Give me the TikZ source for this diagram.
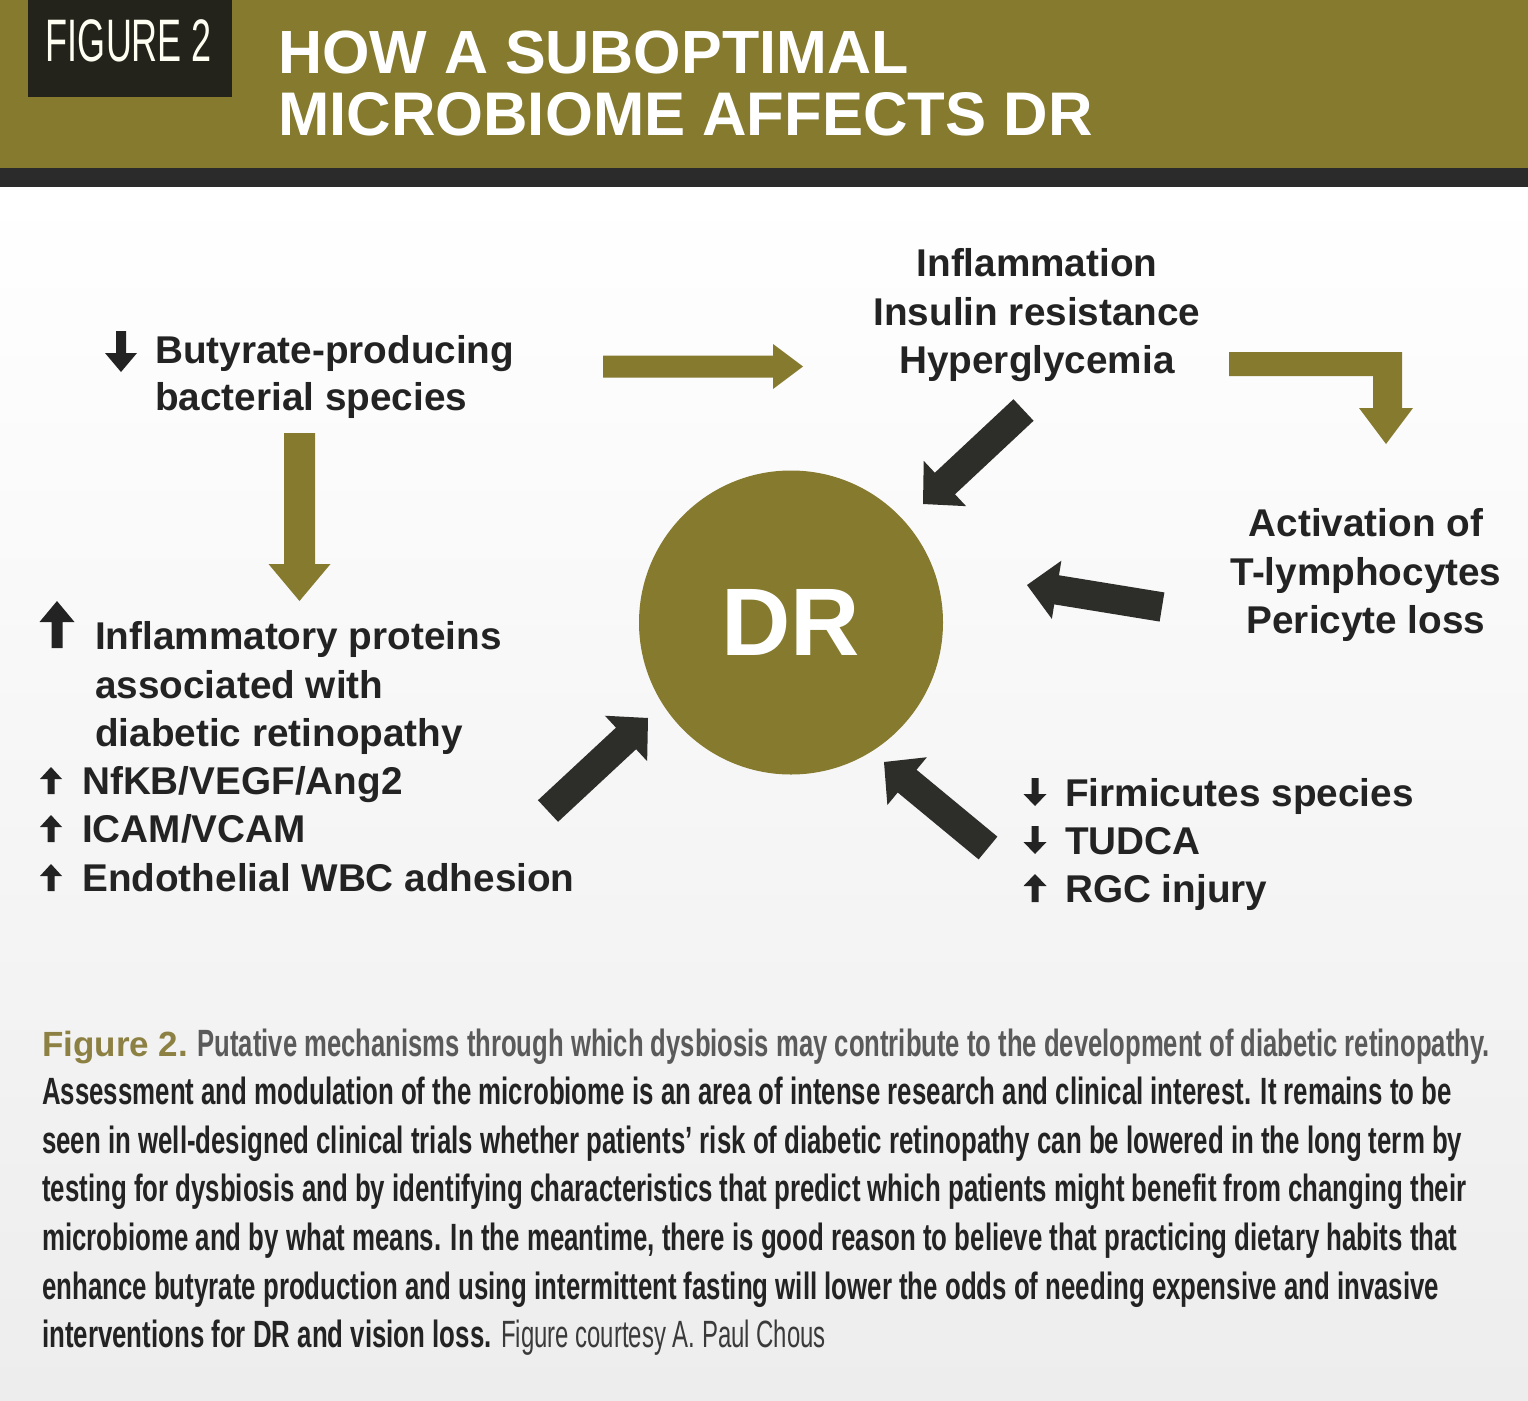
\documentclass[tikz,border=0pt]{standalone}
\usepackage{fontspec}
\setmainfont{Liberation Sans}
\newfontfamily\capfont[FakeStretch=0.68]{Liberation Sans}
\newfontfamily\capfontA[FakeStretch=0.675]{Liberation Sans}
\newfontfamily\creditfont[FakeStretch=0.63]{Liberation Sans}
\newfontfamily\figfont[FakeStretch=0.6]{Liberation Sans}
\usetikzlibrary{calc}
\definecolor{drolive}{HTML}{857A2E}
\definecolor{capolive}{HTML}{8C8042}
\definecolor{darkband}{HTML}{2B2B2B}
\definecolor{figbox}{HTML}{23231B}
\definecolor{darkarrow}{HTML}{2D2D2A}
\definecolor{txtc}{HTML}{232323}
\definecolor{capgray}{HTML}{5A5A5A}
\definecolor{credit}{HTML}{3A3A3A}
\definecolor{bgbottom}{HTML}{EDEDED}
\newcommand{\blockarrow}[7]{%
  \coordinate (#7n) at ($(#3)!#6!(#2)$);
  \fill[#1] ($(#2)!#4!90:(#3)$) -- ($(#7n)!#4!90:(#3)$) -- ($(#7n)!#5!90:(#3)$) -- (#3)
    -- ($(#7n)!#5!-90:(#3)$) -- ($(#7n)!#4!-90:(#3)$) -- ($(#2)!#4!-90:(#3)$) -- cycle;
}
\tikzset{
  lbl/.style={font=\bfseries\fontsize{38.7}{46}\selectfont, text=txtc, inner sep=0pt},
  capline/.style={font=\capfont\bfseries\fontsize{38}{48}\selectfont, text=txtc, inner sep=0pt, anchor=base west},
}
\begin{document}
\begin{tikzpicture}[x=1pt,y=-1pt]
\useasboundingbox (0,0) rectangle (1528,1400);
% background
\fill[white] (0,0) rectangle (1528,1400);
\shade[top color=white, bottom color=bgbottom] (0,187) rectangle (1528,1400);
% header
\fill[drolive] (0,0) rectangle (1528,168);
\fill[darkband] (0,168) rectangle (1528,187);
\fill[figbox] (28,0) rectangle (232,97);
\node[font=\figfont\fontsize{60}{60}\selectfont, text=white!95!yellow, inner sep=0pt] (figlbl) at (129,41) {FIGURE 2};
\node[font=\bfseries\fontsize{61}{61}\selectfont, text=white, inner sep=0pt, anchor=base west] (title1) at (278,73) {HOW A SUBOPTIMAL};
\node[font=\bfseries\fontsize{61.6}{61.6}\selectfont, text=white, inner sep=0pt, anchor=base west] (title2) at (278,135) {MICROBIOME AFFECTS DR};

% central circle
\node[circle, fill=drolive, minimum size=304pt, inner sep=0pt, text=white, font=\bfseries\fontsize{96}{96}\selectfont] (dr) at (791,622.5) {DR};

% top-left block
\node[lbl, anchor=base west] (b1) at (155,363) {Butyrate-producing};
\node[lbl, anchor=base west] (b2) at (155,410) {bacterial species};

% top centre block
\node[lbl, anchor=base] (c1) at (1037,276) {Inflammation};
\node[lbl, anchor=base] (c2) at (1037,325) {Insulin resistance};
\node[lbl, anchor=base] (c3) at (1037,373) {Hyperglycemia};

% right block
\node[lbl, anchor=base] (r1) at (1366,536) {Activation of};
\node[lbl, anchor=base] (r2) at (1366,585) {T-lymphocytes};
\node[lbl, anchor=base] (r3) at (1366,633) {Pericyte loss};

% left block
\node[lbl, anchor=base west] (l1) at (95,649) {Inflammatory proteins};
\node[lbl, anchor=base west] (l2) at (95,698) {associated with};
\node[lbl, anchor=base west] (l3) at (95,746) {diabetic retinopathy};
\node[lbl, anchor=base west] (l4) at (82,794) {NfKB/VEGF/Ang2};
\node[lbl, anchor=base west] (l5) at (82,842) {ICAM/VCAM};
\node[lbl, anchor=base west] (l6) at (82,891) {Endothelial WBC adhesion};

% bottom-right block
\node[lbl, anchor=base west] (br1) at (1065,806) {Firmicutes species};
\node[lbl, anchor=base west] (br2) at (1065,854) {TUDCA};
\node[lbl, anchor=base west] (br3) at (1065,902) {RGC injury};

% up / down markers
\coordinate (m1t) at (121,331); \coordinate (m1h) at (121,372);
\blockarrow{txtc}{m1t}{m1h}{5pt}{16pt}{19pt}{m1}
\coordinate (m2t) at (57,648); \coordinate (m2h) at (57,601);
\blockarrow{txtc}{m2t}{m2h}{5.5pt}{17.5pt}{21pt}{m2}
\coordinate (m3t) at (51,794); \coordinate (m3h) at (51,767);
\blockarrow{txtc}{m3t}{m3h}{3.5pt}{11pt}{12pt}{m3}
\coordinate (m4t) at (51,842); \coordinate (m4h) at (51,815);
\blockarrow{txtc}{m4t}{m4h}{3.5pt}{11pt}{12pt}{m4}
\coordinate (m5t) at (51,891); \coordinate (m5h) at (51,864);
\blockarrow{txtc}{m5t}{m5h}{3.5pt}{11pt}{12pt}{m5}
\coordinate (m6t) at (1035,778); \coordinate (m6h) at (1035,806);
\blockarrow{txtc}{m6t}{m6h}{3.5pt}{11.5pt}{12pt}{m6}
\coordinate (m7t) at (1035,826); \coordinate (m7h) at (1035,854);
\blockarrow{txtc}{m7t}{m7h}{3.5pt}{11.5pt}{12pt}{m7}
\coordinate (m8t) at (1035,902); \coordinate (m8h) at (1035,874);
\blockarrow{txtc}{m8t}{m8h}{3.5pt}{11.5pt}{12pt}{m8}

% olive arrows
\coordinate (h1t) at (603,366.5); \coordinate (h1h) at (803,366.5);
\blockarrow{drolive}{h1t}{h1h}{11pt}{22.5pt}{30pt}{h1}
\coordinate (v1t) at (299.5,433); \coordinate (v1h) at (299.5,601);
\blockarrow{drolive}{v1t}{v1h}{15.5pt}{31pt}{37pt}{v1}
\fill[drolive] (1229,352) -- (1402,352) -- (1402,408) -- (1413,408) -- (1386,444)
  -- (1359,408) -- (1373,408) -- (1373,376) -- (1229,376) -- cycle;

% dark arrows
\coordinate (d1t) at (1023.5,410); \coordinate (d1h) at (923,504);
\blockarrow{darkarrow}{d1t}{d1h}{14.75pt}{31pt}{30pt}{d1}
\coordinate (d2t) at (1162,607); \coordinate (d2h) at (1027,585);
\blockarrow{darkarrow}{d2t}{d2h}{14.75pt}{29.5pt}{30pt}{d2}
\coordinate (d3t) at (548,811); \coordinate (d3h) at (648,718);
\blockarrow{darkarrow}{d3t}{d3h}{14.75pt}{31pt}{30pt}{d3}
\coordinate (d4t) at (988,848); \coordinate (d4h) at (884,762);
\blockarrow{darkarrow}{d4t}{d4h}{14.75pt}{31pt}{30pt}{d4}

% caption
\node[capline] (cap1) at (42,1056) {{\normalfont\bfseries\fontsize{35}{48}\selectfont\color{capolive}Figure 2.} {\capfontA\bfseries\color{capgray}Putative mechanisms through which dysbiosis may contribute to the development of diabetic retinopathy.}};
\node[capline] (cap2) at (42,1104) {Assessment and modulation of the microbiome is an area of intense research and clinical interest. It remains to be};
\node[capline] (cap3) at (42,1153) {seen in well-designed clinical trials whether patients’ risk of diabetic retinopathy can be lowered in the long term by};
\node[capline] (cap4) at (42,1201) {testing for dysbiosis and by identifying characteristics that predict which patients might benefit from changing their};
\node[capline] (cap5) at (42,1250) {microbiome and by what means. In the meantime, there is good reason to believe that practicing dietary habits that};
\node[capline] (cap6) at (42,1299) {enhance butyrate production and using intermittent fasting will lower the odds of needing expensive and invasive};
\node[capline] (cap7) at (42,1347) {interventions for DR and vision loss. {\creditfont\mdseries\color{credit}Figure courtesy A. Paul Chous}};
\end{tikzpicture}
\end{document}
